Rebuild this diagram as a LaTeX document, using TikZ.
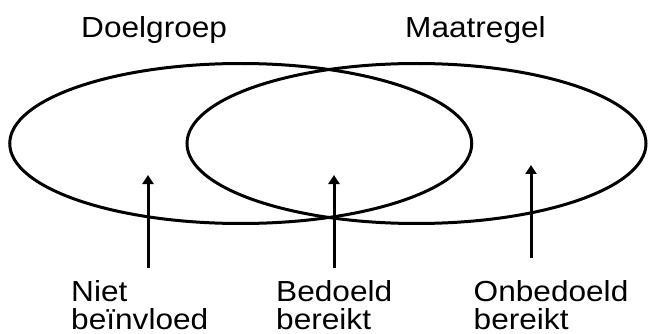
\documentclass[tikz,border=0pt]{standalone}
\usepackage{fontspec}
\newfontfamily\labfont[FakeStretch=1.09]{Liberation Sans}
\usetikzlibrary{arrows.meta,shapes.geometric}
\begin{document}
\begin{tikzpicture}[x=1pt,y=-1pt,
  set/.style={draw,ellipse,line width=3pt,inner sep=0pt,minimum height=160pt},
  lbl/.style={anchor=base west,inner sep=0pt,font=\labfont\fontsize{29}{29}\selectfont},
  pointer/.style={line width=3pt,-{Triangle[width=11pt,length=9pt]}}]
\useasboundingbox (0,0) rectangle (648,334);
\node[set,minimum width=462pt] (L) at (240.75,143.5) {};
\node[set,minimum width=459pt] (R) at (416.5,143.5) {};
\node[lbl] (tl) at (81,38) {Doelgroep};
\node[lbl] (tr) at (405,38) {Maatregel};
\node[lbl] (n1) at (71,301) {Niet};
\node[lbl] (n2) at (71,329) {beïnvloed};
\node[lbl] (b1) at (276,301) {Bedoeld};
\node[lbl] (b2) at (276,329) {bereikt};
\node[lbl] (o1) at (473.5,301) {Onbedoeld};
\node[lbl] (o2) at (473.5,329) {bereikt};
\coordinate (s1) at (148,268); \coordinate (e1) at (148,175);
\coordinate (s2) at (334,268); \coordinate (e2) at (334,175);
\coordinate (s3) at (531,258); \coordinate (e3) at (531,165);
\draw[pointer] (s1) -- (e1);
\draw[pointer] (s2) -- (e2);
\draw[pointer] (s3) -- (e3);
\end{tikzpicture}
\end{document}
